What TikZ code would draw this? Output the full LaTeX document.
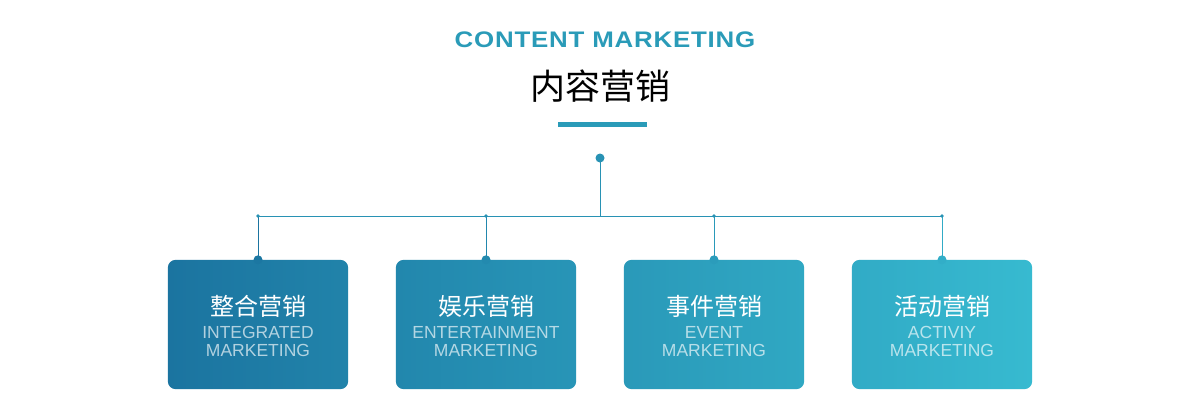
\documentclass[tikz,border=0pt]{standalone}
\usepackage{fontspec}
\setmainfont{Liberation Sans}
\newfontfamily\cjk{Noto Sans CJK SC}
\newfontfamily\titlefont[LetterSpace=3]{Liberation Sans}
\usepackage{tikz}
\usetikzlibrary{shapes,calc}
\definecolor{titleblue}{HTML}{2A9BB8}
\definecolor{lineblue}{HTML}{2892B4}
\definecolor{cardA}{HTML}{1B74A0}
\definecolor{cardB}{HTML}{2183AA}
\definecolor{cardC}{HTML}{2287AD}
\definecolor{cardD}{HTML}{2895B7}
\definecolor{cardE}{HTML}{2A99B9}
\definecolor{cardF}{HTML}{30A8C3}
\definecolor{cardG}{HTML}{31ABC6}
\definecolor{cardH}{HTML}{37BAD0}
\tikzset{
	card/.style={minimum width=180pt,minimum height=129pt,inner sep=0pt},
	cardfill/.style={rounded corners=8pt},
	cardcn/.style={font=\cjk\fontsize{24}{24}\selectfont,text=white},
	carden/.style={font=\fontsize{17.5}{18}\selectfont,text=white,text opacity=0.66,align=center,inner sep=0pt},
	link/.style={color=lineblue,line width=1pt}
}
\begin{document}
\begin{tikzpicture}[line cap=round,line join=round,x=1pt,y=-1pt]
			\useasboundingbox[fill=white] (0,0) rectangle (1200,418);
			% heading
			\node[font=\titlefont\bfseries\fontsize{22.5}{24}\selectfont,text=titleblue,anchor=base] (title) at (605,47.5) {\scalebox{1.15}[1]{CONTENT MARKETING}};
			\node[font=\cjk\fontsize{35}{35}\selectfont,text=black] (subtitle) at (600,86) {内容营销};
			\fill[color=titleblue] (558,122) rectangle (647,127);
			% tree
			\coordinate (root) at (600,158);
			\coordinate (hub) at (600,216);
			\coordinate (j1) at (258,216);
			\coordinate (j2) at (486,216);
			\coordinate (j3) at (714,216);
			\coordinate (j4) at (942,216);
			\node[card] (c1) at (258,324.5) {};
			\node[card] (c2) at (486,324.5) {};
			\node[card] (c3) at (714,324.5) {};
			\node[card] (c4) at (942,324.5) {};
			\shade[cardfill,left color=cardA,right color=cardB] (c1.south west) rectangle (c1.north east);
			\shade[cardfill,left color=cardC,right color=cardD] (c2.south west) rectangle (c2.north east);
			\shade[cardfill,left color=cardE,right color=cardF] (c3.south west) rectangle (c3.north east);
			\shade[cardfill,left color=cardG,right color=cardH] (c4.south west) rectangle (c4.north east);
			\draw[link] (root) -- (hub);
			\draw[link] (j1) -- (j4);
			\draw[link,color=cardA] (j1) -- (c1.north);
			\draw[link,color=cardC] (j2) -- (c2.north);
			\draw[link,color=cardE] (j3) -- (c3.north);
			\draw[link,color=cardG] (j4) -- (c4.north);
			\fill[color=lineblue] (root) circle (4.5pt);
			\fill[color=lineblue] (j1) circle (1.8pt) (j2) circle (1.8pt) (j3) circle (1.8pt) (j4) circle (1.8pt);
			\fill[color=cardA!80!cardB] (c1.north) circle (4.5pt);
			\fill[color=cardC!80!cardD] (c2.north) circle (4.5pt);
			\fill[color=cardE!80!cardF] (c3.north) circle (4.5pt);
			\fill[color=cardG!80!cardH] (c4.north) circle (4.5pt);
			% card texts
			\node[cardcn] (c1cn) at (258,306) {整合营销};
			\node[carden] (c1en) at (258,341.5) {INTEGRATED\\MARKETING};
			\node[cardcn] (c2cn) at (486,306) {娱乐营销};
			\node[carden] (c2en) at (486,341.5) {ENTERTAINMENT\\MARKETING};
			\node[cardcn] (c3cn) at (714,306) {事件营销};
			\node[carden] (c3en) at (714,341.5) {EVENT\\MARKETING};
			\node[cardcn] (c4cn) at (942,306) {活动营销};
			\node[carden] (c4en) at (942,341.5) {ACTIVIY\\MARKETING};
		\end{tikzpicture}
\end{document}
